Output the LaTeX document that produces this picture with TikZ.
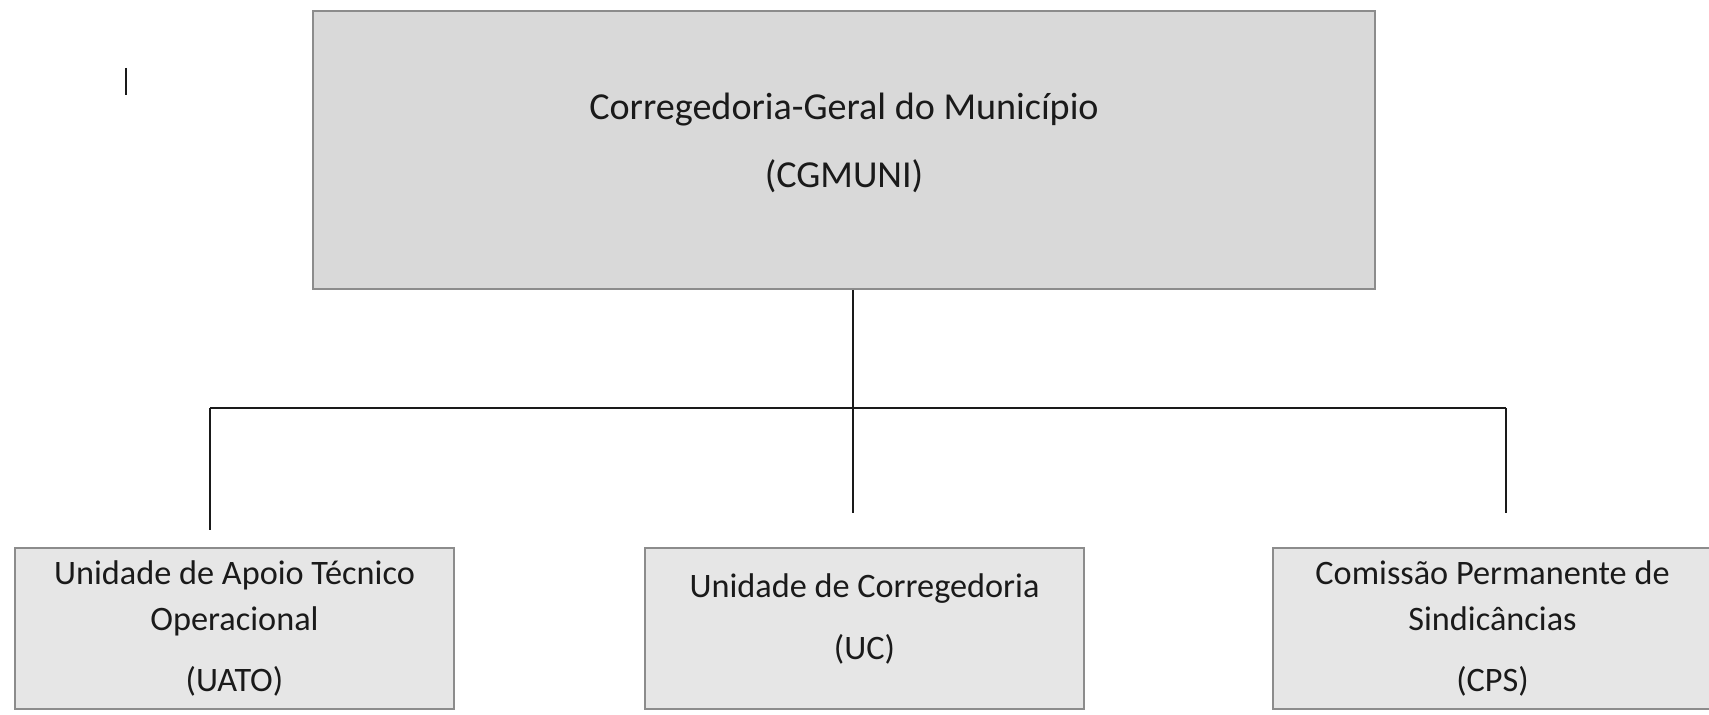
\documentclass[tikz,border=0pt]{standalone}
\usepackage{fontspec}
\setmainfont{Carlito}
\usepackage{xcolor}
\usepackage{tikz}
\usetikzlibrary{positioning}
\definecolor{ink}{HTML}{1A1A1A}
\definecolor{frame}{HTML}{8C8C8C}
\definecolor{cTop}{HTML}{D9D9D9}
\definecolor{cUnit}{HTML}{E6E6E6}
\tikzset{
  unit/.style  = {draw=frame, line width=0.9pt, align=center, text=ink, inner sep=0pt},
  head/.style  = {unit, fill=cTop, minimum width=21.24cm, minimum height=5.56cm,
                  font=\fontsize{21.7}{38.4}\selectfont},
  sub/.style   = {unit, fill=cUnit, minimum width=8.78cm, minimum height=3.22cm,
                  font=\fontsize{19.5}{26.2}\selectfont},
  wire/.style  = {draw=ink, line width=0.85pt},
}
\begin{document}
\begin{tikzpicture}
  \useasboundingbox (0,0) rectangle (34.18,14.30);

  % ---------------- head ----------------
  \node[head] (cg) at (16.88,11.30) {Corregedoria-Geral do Município\\(CGMUNI)\\[-39pt]\strut};

  % ---------------- units ----------------
  \node[sub] (uato) at (4.69,1.73) {Unidade de Apoio Técnico\\Operacional\\[9pt](UATO)};
  \node[sub] (uc) at (17.29,1.73) {Unidade de Corregedoria\\[9pt](UC)\\[-20.6pt]\strut};
  \node[sub] (cps) at (29.85,1.73) {Comissão Permanente de\\Sindicâncias\\[9pt](CPS)};

  % ---------------- connectors ----------------
  \coordinate (top) at (17.06,0 |- cg.south);
  \coordinate (bus) at (17.06,6.14);
  \coordinate (busl) at (4.20,6.14);
  \coordinate (busr) at (30.12,6.14);
  \coordinate (endl) at (4.20,3.70);
  \coordinate (endm) at (17.06,4.04);
  \coordinate (endr) at (30.12,4.04);
  \draw[wire] (top) -- (bus);
  \draw[wire] (busl) -- (busr);
  \draw[wire] (busl) -- (endl);
  \draw[wire] (bus) -- (endm);
  \draw[wire] (busr) -- (endr);

  % stray mark
  \coordinate (mka) at (2.52,12.94);
  \coordinate (mkb) at (2.52,12.40);
  \draw[wire] (mka) -- (mkb);
\end{tikzpicture}
\end{document}
